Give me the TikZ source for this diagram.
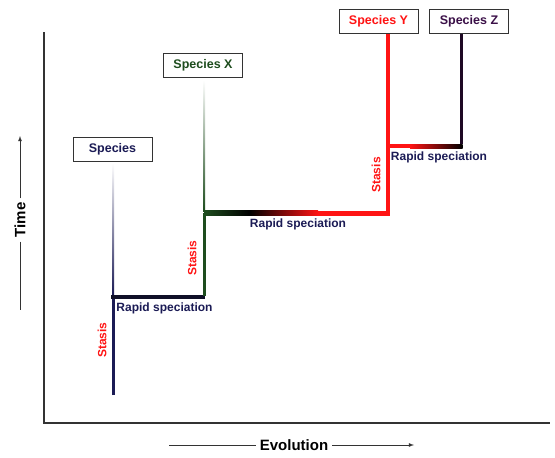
\documentclass[tikz,border=0pt]{standalone}
\usepackage{fontspec}
\setmainfont{Liberation Sans}
\definecolor{navy}{HTML}{1B1B55}
\definecolor{dgreen}{HTML}{1E4D1E}
\definecolor{spred}{HTML}{FF1414}
\definecolor{zpurple}{HTML}{3B1048}
\definecolor{hblack}{HTML}{101028}
\tikzset{
  spbox/.style={draw=black!80, line width=1pt, fill=white, minimum width=79pt, minimum height=24pt, inner sep=0pt, font=\fontsize{12.5}{14}\selectfont\bfseries},
  lbl/.style={font=\fontsize{12}{14}\selectfont\bfseries, inner sep=1pt},
  stasis/.style={lbl, text=spred, rotate=90},
  rapid/.style={lbl, text=navy},
  axlbl/.style={font=\fontsize{15}{17}\selectfont\bfseries, inner sep=4pt},
  axis/.style={line width=1.5pt, black!80},
  guide/.style={line width=0.8pt, black!80},
}
\begin{document}
\begin{tikzpicture}[x=1pt,y=-1pt]
\useasboundingbox (0,0) rectangle (555,458);
% axes
\coordinate (otop) at (44,32);
\coordinate (orig) at (44,423);
\coordinate (oright) at (550,423);
\draw[axis] (otop) -- (orig) -- (oright);
% Time label
\node[axlbl, rotate=90] (time) at (20,220) {Time};
\coordinate (timetop) at (20,136);
\coordinate (timebot) at (20,310);
\draw[guide, -latex] (time.east) -- (timetop);
\draw[guide] (time.west) -- (timebot);
% Evolution label
\node[axlbl] (evo) at (294,445) {Evolution};
\coordinate (evoleft) at (169,445);
\coordinate (evoright) at (414,445);
\draw[guide] (evoleft) -- (evo.west);
\draw[guide, -latex] (evo.east) -- (evoright);
% species boxes
\node[spbox, text=navy] (sp) at (112.5,149) {Species};
\node[spbox, text=dgreen] (spx) at (203,65.5) {Species X};
\node[spbox, text=spred] (spy) at (378.5,21) {Species Y};
\node[spbox, text=zpurple] (spz) at (469,21) {Species Z};
% junctions
\coordinate (a0) at (113,395);
\coordinate (a1) at (113,297);
\coordinate (b1) at (204,297);
\coordinate (b2) at (204,213);
\coordinate (c2) at (388,213);
\coordinate (c3) at (388,146);
\coordinate (d3) at (461,146);
% faded continuation lines
\shade[top color=white, bottom color=navy] (112,163) rectangle (114,295);
\shade[top color=white, bottom color=dgreen] (203,80) rectangle (205,211);
% species lineage
\draw[navy, line width=3pt] (a0) -- (a1);
\draw[hblack, line width=3.5pt] ([xshift=-2pt]a1) -- ([xshift=1pt]b1);
\draw[dgreen, line width=3pt] ([yshift=1.5pt]b1) -- (b2);
% horizontal 2 gradient
\shade[left color=dgreen, right color=black] (204,210.5) rectangle (250,215.5);
\shade[left color=black, right color=spred] (250,210.5) rectangle (318,215.5);
\fill[spred] (318,210.5) rectangle (390,215.5);
% species Y
\draw[spred, line width=4pt] ([yshift=2.5pt]c2) -- (c2 |- spy.south);
% horizontal 3 gradient
\fill[spred] (388,144) rectangle (410,148);
\shade[left color=spred, right color=black] (410,144) rectangle (462.5,148);
% species Z
\draw[zpurple!50!black, line width=3pt] ([yshift=2pt]d3) -- (d3 |- spz.south);
% labels
\node[rapid] (r1) at (164.5,308) {Rapid speciation};
\node[rapid] (r2) at (298,224) {Rapid speciation};
\node[rapid] (r3) at (439,157) {Rapid speciation};
\node[stasis] (s1) at (102,340) {Stasis};
\node[stasis] (s2) at (192,258) {Stasis};
\node[stasis] (s3) at (376,175) {Stasis};
\end{tikzpicture}
\end{document}
